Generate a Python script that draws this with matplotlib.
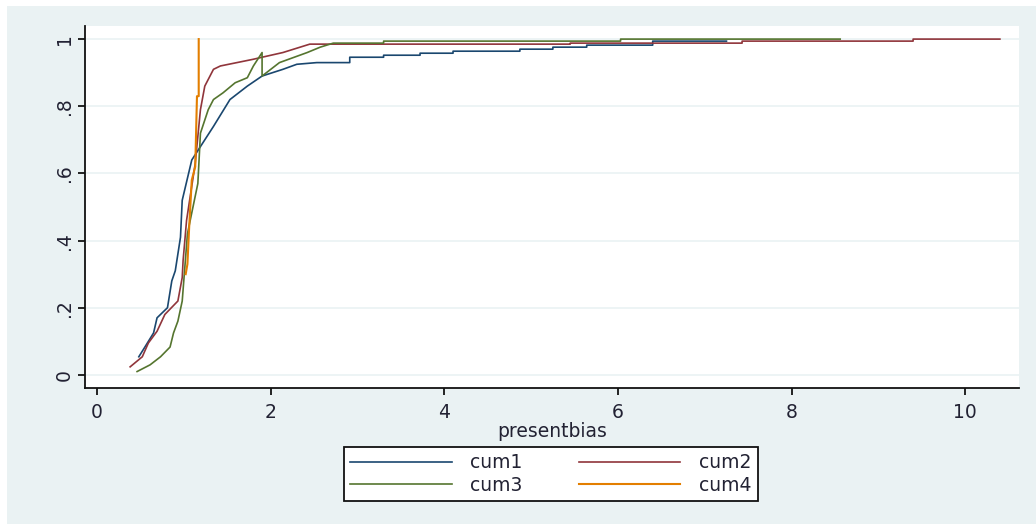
import matplotlib
matplotlib.use("Agg")
import matplotlib.pyplot as plt
from matplotlib.patches import Rectangle

plt.rcParams['font.family'] = ['DejaVu Sans']

# cumulative shares
cum1_x = [0.48, 0.55, 0.65, 0.69, 0.81, 0.86, 0.90, 0.96, 0.98, 1.09, 1.19, 1.34, 1.53,
          1.73, 1.90, 2.14, 2.30, 2.53, 2.91, 2.91, 3.30, 3.30, 3.72, 3.72, 4.10, 4.10,
          4.87, 4.87, 5.25, 5.25, 5.64, 5.64, 6.40, 6.40, 7.25]
cum1_y = [0.054, 0.083, 0.125, 0.17, 0.20, 0.28, 0.31, 0.41, 0.52, 0.64, 0.68, 0.74, 0.82,
          0.86, 0.89, 0.91, 0.925, 0.93, 0.93, 0.946, 0.946, 0.952, 0.952, 0.958, 0.958, 0.964,
          0.964, 0.97, 0.97, 0.976, 0.976, 0.982, 0.982, 0.994, 0.994]

cum2_x = [0.38, 0.52, 0.59, 0.69, 0.78, 0.93, 0.98, 0.99, 1.03, 1.13, 1.19, 1.24, 1.34,
          1.42, 1.61, 1.80, 1.90, 2.14, 2.45, 5.45, 5.45, 7.43, 7.43, 9.40, 9.40, 10.40]
cum2_y = [0.024, 0.054, 0.095, 0.13, 0.18, 0.22, 0.29, 0.34, 0.46, 0.63, 0.79, 0.86, 0.91,
          0.92, 0.93, 0.94, 0.946, 0.96, 0.985, 0.985, 0.988, 0.988, 0.994, 0.994, 1.0, 1.0]

cum3_x = [0.46, 0.61, 0.73, 0.84, 0.88, 0.93, 0.98, 1.01, 1.04, 1.16, 1.19, 1.28, 1.34,
          1.45, 1.59, 1.73, 1.80, 1.90, 1.90, 2.10, 2.42, 2.57, 2.72, 3.30, 3.30, 6.03,
          6.03, 8.56]
cum3_y = [0.01, 0.03, 0.054, 0.083, 0.125, 0.16, 0.22, 0.32, 0.42, 0.57, 0.72, 0.79, 0.82,
          0.84, 0.87, 0.885, 0.92, 0.96, 0.89, 0.93, 0.96, 0.976, 0.988, 0.988, 0.994, 0.994,
          1.0, 1.0]

cum4_x = [1.02, 1.04, 1.06, 1.09, 1.13, 1.15, 1.17, 1.17]
cum4_y = [0.30, 0.33, 0.44, 0.58, 0.62, 0.83, 0.83, 1.0]

yticks = [0, 0.2, 0.4, 0.6, 0.8, 1]
ytick_labels = ['0', '.2', '.4', '.6', '.8', '1']
xticks = [0, 2, 4, 6, 8, 10]

bg = '#eaf2f3'
txt = '#222233'
fs = 13.5

fig = plt.figure(figsize=(10.36, 5.24), dpi=100)
fig.patch.set_facecolor('white')
fig.patches.append(Rectangle((7 / 1036, 0), 1 - 7 / 1036, 1 - 6 / 524,
                             transform=fig.transFigure, facecolor=bg, edgecolor='none', zorder=-10))

ax = fig.add_axes([85 / 1036, 1 - 388 / 524, (1019 - 85) / 1036, (388 - 26) / 524])
ax.set_facecolor('white')

lw = 1.2
l1, = ax.plot(cum1_x, cum1_y, color='#1a476f', lw=lw, label='cum1')
l2, = ax.plot(cum2_x, cum2_y, color='#90353b', lw=lw, label='cum2')
l3, = ax.plot(cum3_x, cum3_y, color='#55752f', lw=lw, label='cum3')
l4, = ax.plot(cum4_x, cum4_y, color='#e37e00', lw=lw + 0.3, label='cum4')

ax.set_xlim(-0.14, 10.62)
ax.set_ylim(-0.039, 1.039)
ax.set_xticks(xticks)
ax.set_yticks(yticks)
ax.set_yticklabels(ytick_labels, rotation=90, va='center')
ax.grid(axis='y', color=bg, lw=1.2)
ax.set_axisbelow(True)
for s in ['top', 'right']:
    ax.spines[s].set_visible(False)
for s in ['left', 'bottom']:
    ax.spines[s].set_linewidth(1.3)
    ax.spines[s].set_color('#111111')
ax.tick_params(direction='out', length=5, width=1.2, labelsize=fs, labelcolor=txt)
ax.tick_params(axis='y', pad=3)
ax.tick_params(axis='x', pad=6)
ax.set_xlabel('presentbias', fontsize=fs, color=txt, labelpad=0)

# row-wise order like the original: cum1 cum2 / cum3 cum4
leg = fig.legend([l1, l3, l2, l4], ['cum1', 'cum3', 'cum2', 'cum4'], ncol=2, loc='center',
                 bbox_to_anchor=(551 / 1036, 1 - 474 / 524),
                 frameon=True, fancybox=False, edgecolor='#111111', facecolor='white',
                 framealpha=1, fontsize=fs,
                 handlelength=5.4, columnspacing=3.0, labelspacing=0.2, borderpad=0.35,
                 handletextpad=1.0)
leg.get_frame().set_linewidth(1.3)
for t in leg.get_texts():
    t.set_color(txt)

fig.savefig('out.png', dpi=100, facecolor=fig.get_facecolor())
